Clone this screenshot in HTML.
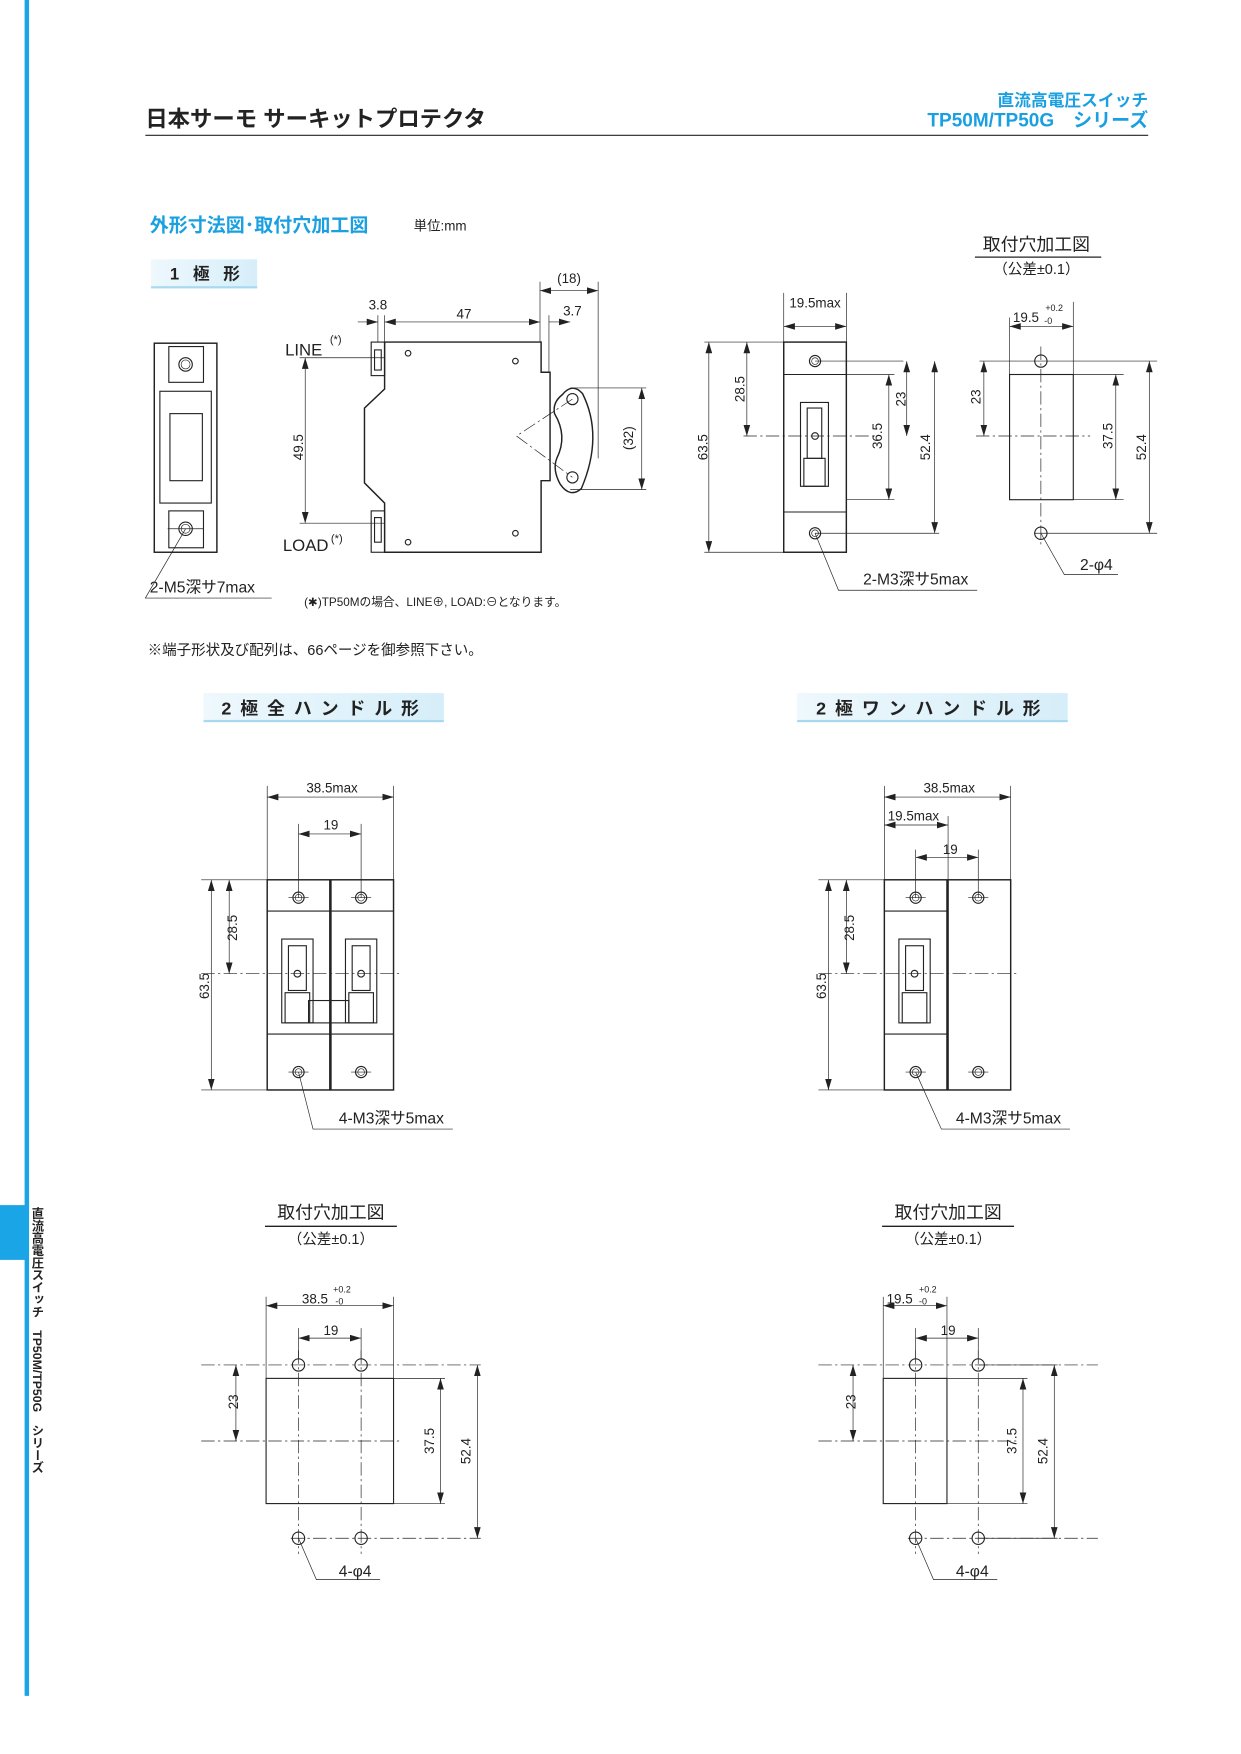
<!DOCTYPE html>
<html><head><meta charset="utf-8"><style>
html,body{margin:0;padding:0;background:#fff}
svg{display:block}
text{font-family:"Liberation Sans","Noto Sans CJK JP",sans-serif;fill:#222}
.l{stroke:#222;stroke-width:1;fill:none}
.t{stroke:#222;stroke-width:0.6;fill:none}
.b{stroke:#222;stroke-width:1.3;fill:#fff}
.c{stroke:#222;stroke-width:0.6;fill:none;stroke-dasharray:12 3 2 3}
.d{stroke:#222;stroke-width:0.6;fill:none;marker-start:url(#a);marker-end:url(#a)}
.dn{font-size:12px}
</style></head><body>
<svg width="1241" height="1754" viewBox="0 0 1110 1569" preserveAspectRatio="none" xmlns="http://www.w3.org/2000/svg">
<defs>
<marker id="a" viewBox="0 0 10 6" refX="10" refY="3" markerWidth="10" markerHeight="6" orient="auto-start-reverse" markerUnits="userSpaceOnUse"><path d="M0,0 L10,3 L0,6 z" fill="#222"/></marker>
<linearGradient id="g" x1="0" x2="1"><stop offset="0" stop-color="#eef8fd"/><stop offset="1" stop-color="#d6eef9"/></linearGradient>
</defs>

<rect x="22" y="0" width="4" height="1517" fill="#1aa5e6"/>
<rect x="0" y="1078" width="25" height="49" fill="#1aa5e6"/>
<text x="33" y="1080" style="writing-mode:vertical-rl;font-size:11px;font-weight:bold" fill="#222">直流高電圧スイッチ　TP50M/TP50G　シリーズ</text>

<text x="130" y="113" font-size="20" font-weight="bold">日本サーモ サーキットプロテクタ</text>
<text x="1027" y="95" font-size="15" font-weight="bold" text-anchor="end" style="fill:#1aa0e0">直流高電圧スイッチ</text>
<text x="1027" y="113" font-size="17" font-weight="bold" text-anchor="end" style="fill:#1aa0e0">TP50M/TP50G　シリーズ</text>
<line x1="130" y1="121" x2="1027" y2="121" stroke="#222" stroke-width="1"/>

<text x="134" y="207" font-size="17" font-weight="bold" style="fill:#1aa0e0">外形寸法図･取付穴加工図</text>
<text x="370" y="206" font-size="12">単位:mm</text>

<rect x="135" y="232" width="95" height="26" fill="url(#g)"/><rect x="135" y="256" width="95" height="2" fill="#a9d9f0"/>
<text x="152" y="250" font-size="15" font-weight="bold" letter-spacing="4">1 極 形</text>
<rect x="182" y="620" width="215" height="26" fill="url(#g)"/><rect x="182" y="644" width="215" height="2" fill="#a9d9f0"/>
<text x="198" y="639" font-size="16" font-weight="bold" letter-spacing="8">2極全ハンドル形</text>
<rect x="713" y="620" width="242" height="26" fill="url(#g)"/><rect x="713" y="644" width="242" height="2" fill="#a9d9f0"/>
<text x="730" y="639" font-size="16" font-weight="bold" letter-spacing="8">2極ワンハンドル形</text>

<rect class="b" x="138" y="307" width="56" height="187"/>
<rect class="l" x="151" y="310" width="31" height="32"/><circle class="l" cx="166" cy="326" r="6"/><circle class="t" cx="166" cy="326" r="4"/>
<rect class="l" x="143" y="350" width="46" height="100"/><rect class="l" x="152" y="370" width="29" height="60"/>
<rect class="l" x="151" y="457" width="31" height="33"/><circle class="l" cx="166" cy="473" r="6"/><circle class="t" cx="166" cy="473" r="4"/>
<line class="t" x1="150" y1="473" x2="182" y2="473"/>
<path class="t" d="M166,473 L130,535 L243,535"/>
<text x="134" y="530" font-size="14">2-M5深サ7max</text>

<path class="b" d="M344,306 L484,306 L484,333 L492,333 L492,430 L484,430 L484,494 L344,494 L344,450 L326,432 L326,365 L344,348 Z"/>
<rect class="l" x="332" y="306" width="12" height="30"/><rect class="l" x="335" y="313" width="6" height="18"/>
<rect class="l" x="332" y="457" width="12" height="37"/><rect class="l" x="335" y="463" width="6" height="22"/>
<circle class="l" cx="365" cy="316" r="2.5"/><circle class="l" cx="461" cy="323" r="2.5"/><circle class="l" cx="365" cy="485" r="2.5"/><circle class="l" cx="461" cy="477" r="2.5"/>
<path class="b" d="M503,353 Q512,342 521,352 Q540,390 520,437 Q510,446 501,433 Q494,420 498,410 Q508,390 496,370 Q494,360 503,353 Z"/>
<circle class="l" cx="512" cy="357" r="5"/><circle class="l" cx="512" cy="427" r="5"/>
<path class="c" d="M512,357 L462,390 L512,427"/>
<line class="t" x1="338" y1="282" x2="338" y2="306"/><line class="t" x1="344" y1="282" x2="344" y2="306"/>
<line class="t" x1="483" y1="252" x2="483" y2="306"/><line class="t" x1="491" y1="282" x2="491" y2="333"/><line class="t" x1="535" y1="252" x2="535" y2="410"/>
<line class="d" x1="320" y1="288" x2="338" y2="288" style="marker-start:none"/>
<line class="d" x1="344" y1="288" x2="483" y2="288"/>
<line class="d" x1="491" y1="288" x2="510" y2="288" style="marker-start:none"/>
<line class="d" x1="483" y1="260" x2="535" y2="260"/>
<text x="338" y="277" class="dn" text-anchor="middle">3.8</text>
<text x="415" y="285" class="dn" text-anchor="middle">47</text>
<text x="512" y="282" class="dn" text-anchor="middle">3.7</text>
<text x="509" y="253" class="dn" text-anchor="middle">(18)</text>
<text x="255" y="318" font-size="15">LINE</text><text x="295" y="307" font-size="10">(*)</text>
<text x="253" y="493" font-size="15">LOAD</text><text x="296" y="485" font-size="10">(*)</text>
<line class="t" x1="268" y1="320" x2="344" y2="320"/><line class="t" x1="268" y1="468" x2="344" y2="468"/>
<line class="d" x1="273" y1="320" x2="273" y2="468"/>
<text class="dn" transform="translate(271,400) rotate(-90)" text-anchor="middle">49.5</text>
<line class="t" x1="510" y1="347" x2="578" y2="347"/><line class="t" x1="510" y1="438" x2="578" y2="438"/>
<line class="d" x1="574" y1="347" x2="574" y2="438"/>
<text class="dn" transform="translate(566,392) rotate(-90)" text-anchor="middle">(32)</text>
<text x="272" y="542" font-size="10.5">(✱)TP50Mの場合、LINE⊕, LOAD:⊖となります。</text>
<text x="132" y="586" font-size="13">※端子形状及び配列は、66ページを御参照下さい。</text>

<rect class="b" x="701" y="306" width="56" height="188"/>
<line class="l" x1="701" y1="335" x2="757" y2="335"/><line class="l" x1="701" y1="458" x2="757" y2="458"/>
<circle class="l" cx="729" cy="323" r="5"/><circle class="t" cx="729" cy="323" r="3"/>
<circle class="l" cx="729" cy="477" r="5"/><circle class="t" cx="729" cy="477" r="3"/>
<rect class="l" x="716" y="360" width="25" height="75"/><rect class="l" x="722" y="365" width="13" height="45"/><rect class="l" x="719" y="410" width="19" height="25"/>
<circle class="l" cx="729" cy="390" r="3"/>
<line class="c" x1="665" y1="390" x2="782" y2="390"/>
<line class="t" x1="701" y1="262" x2="701" y2="306"/><line class="t" x1="757" y1="262" x2="757" y2="306"/>
<line class="d" x1="701" y1="292" x2="757" y2="292"/>
<text x="729" y="275" class="dn" text-anchor="middle">19.5max</text>
<line class="t" x1="630" y1="306" x2="701" y2="306"/><line class="t" x1="630" y1="494" x2="701" y2="494"/>
<line class="d" x1="634" y1="306" x2="634" y2="494"/>
<text class="dn" transform="translate(633,400) rotate(-90)" text-anchor="middle">63.5</text>
<line class="d" x1="668" y1="306" x2="668" y2="390"/>
<text class="dn" transform="translate(666,348) rotate(-90)" text-anchor="middle">28.5</text>
<line class="t" x1="729" y1="323" x2="808" y2="323"/><line class="t" x1="757" y1="335" x2="800" y2="335"/><line class="t" x1="757" y1="447" x2="800" y2="447"/><line class="t" x1="729" y1="477" x2="840" y2="477"/>
<line class="d" x1="811" y1="323" x2="811" y2="390"/>
<text class="dn" transform="translate(810,357) rotate(-90)" text-anchor="middle">23</text>
<line class="d" x1="795" y1="335" x2="795" y2="447"/>
<text class="dn" transform="translate(789,390) rotate(-90)" text-anchor="middle">36.5</text>
<line class="d" x1="836" y1="323" x2="836" y2="477"/>
<text class="dn" transform="translate(832,400) rotate(-90)" text-anchor="middle">52.4</text>
<path class="t" d="M729,477 L750,528 L874,528"/>
<text x="772" y="523" font-size="14">2-M3深サ5max</text>

<text x="927" y="224" font-size="16" text-anchor="middle">取付穴加工図</text>
<line x1="872" y1="230" x2="985" y2="230" stroke="#222" stroke-width="1.2"/>
<text x="927" y="245" font-size="13" text-anchor="middle">（公差±0.1）</text>
<rect class="l" x="903" y="335" width="57" height="112"/>
<circle class="l" cx="931" cy="323" r="5.5"/><circle class="l" cx="931" cy="477" r="5.5"/>
<line class="c" x1="931" y1="310" x2="931" y2="490"/>
<line class="c" x1="873" y1="390" x2="975" y2="390"/>
<line class="t" x1="876" y1="323" x2="1035" y2="323"/><line class="t" x1="960" y1="335" x2="1005" y2="335"/><line class="t" x1="960" y1="447" x2="1005" y2="447"/><line class="t" x1="925" y1="477" x2="1035" y2="477"/>
<line class="d" x1="880" y1="323" x2="880" y2="390"/>
<text class="dn" transform="translate(877,355) rotate(-90)" text-anchor="middle">23</text>
<line class="d" x1="998" y1="335" x2="998" y2="447"/>
<text class="dn" transform="translate(995,390) rotate(-90)" text-anchor="middle">37.5</text>
<line class="d" x1="1028" y1="323" x2="1028" y2="477"/>
<text class="dn" transform="translate(1025,400) rotate(-90)" text-anchor="middle">52.4</text>
<line class="t" x1="903" y1="284" x2="903" y2="335"/><line class="t" x1="960" y1="270" x2="960" y2="335"/>
<line class="d" x1="903" y1="292" x2="960" y2="292"/>
<text x="906" y="288" class="dn">19.5</text><text x="935" y="278" font-size="8">+0.2</text><text x="934" y="290" font-size="8">-0</text>
<path class="t" d="M931,477 L952,514 L1000,514"/>
<text x="966" y="510" font-size="14">2-φ4</text>

<rect class="b" x="239" y="787" width="56" height="188"/><rect class="b" x="296" y="787" width="56" height="188"/>
<line class="l" x1="239" y1="815" x2="352" y2="815"/><line class="l" x1="239" y1="925" x2="352" y2="925"/>
<g id="h"><rect class="l" x="252" y="840" width="28" height="75"/><rect class="l" x="258" y="846" width="16" height="40"/><rect class="l" x="255" y="888" width="22" height="27"/><circle class="l" cx="266" cy="871" r="3"/></g>
<use href="#h" x="57"/>
<rect class="l" x="276" y="895" width="36" height="20" fill="#fff"/>
<g id="hc"><circle class="l" cx="267" cy="803" r="5"/><circle class="t" cx="267" cy="803" r="3"/><circle class="l" cx="267" cy="959" r="5"/><circle class="t" cx="267" cy="959" r="3"/>
<line class="t" x1="258" y1="803" x2="276" y2="803"/><line class="t" x1="258" y1="959" x2="276" y2="959"/></g>
<use href="#hc" x="56"/>
<line class="c" x1="180" y1="871" x2="357" y2="871"/>
<line class="t" x1="239" y1="703" x2="239" y2="787"/><line class="t" x1="352" y1="703" x2="352" y2="787"/>
<line class="t" x1="267" y1="737" x2="267" y2="803"/><line class="t" x1="323" y1="737" x2="323" y2="803"/>
<line class="d" x1="239" y1="713" x2="352" y2="713"/>
<text x="297" y="709" class="dn" text-anchor="middle">38.5max</text>
<line class="d" x1="267" y1="746" x2="323" y2="746"/>
<text x="296" y="742" class="dn" text-anchor="middle">19</text>
<line class="t" x1="180" y1="787" x2="239" y2="787"/><line class="t" x1="180" y1="975" x2="239" y2="975"/>
<line class="d" x1="189" y1="787" x2="189" y2="975"/>
<text class="dn" transform="translate(187,882) rotate(-90)" text-anchor="middle">63.5</text>
<line class="d" x1="205" y1="787" x2="205" y2="871"/>
<text class="dn" transform="translate(212,830) rotate(-90)" text-anchor="middle">28.5</text>
<path class="t" d="M267,959 L280,1010 L405,1010"/>
<text x="303" y="1005" font-size="14">4-M3深サ5max</text>

<g transform="translate(552,0)">
<rect class="b" x="239" y="787" width="56" height="188"/><rect class="b" x="296" y="787" width="56" height="188"/>
<line class="l" x1="239" y1="815" x2="295" y2="815"/><line class="l" x1="239" y1="925" x2="295" y2="925"/>
<use href="#h"/>
<use href="#hc"/><use href="#hc" x="56"/>
<line class="c" x1="180" y1="871" x2="357" y2="871"/>
<line class="t" x1="239" y1="703" x2="239" y2="787"/><line class="t" x1="352" y1="703" x2="352" y2="787"/><line class="t" x1="296" y1="730" x2="296" y2="787"/>
<line class="t" x1="267" y1="760" x2="267" y2="803"/><line class="t" x1="323" y1="760" x2="323" y2="803"/>
<line class="d" x1="239" y1="713" x2="352" y2="713"/>
<text x="297" y="709" class="dn" text-anchor="middle">38.5max</text>
<line class="d" x1="239" y1="738" x2="296" y2="738"/>
<text x="242" y="734" class="dn">19.5max</text>
<line class="d" x1="267" y1="767" x2="323" y2="767"/>
<text x="298" y="764" class="dn" text-anchor="middle">19</text>
<line class="t" x1="180" y1="787" x2="239" y2="787"/><line class="t" x1="180" y1="975" x2="239" y2="975"/>
<line class="d" x1="189" y1="787" x2="189" y2="975"/>
<text class="dn" transform="translate(187,882) rotate(-90)" text-anchor="middle">63.5</text>
<line class="d" x1="205" y1="787" x2="205" y2="871"/>
<text class="dn" transform="translate(212,830) rotate(-90)" text-anchor="middle">28.5</text>
<path class="t" d="M267,959 L290,1010 L405,1010"/>
<text x="303" y="1005" font-size="14">4-M3深サ5max</text>
</g>

<g id="ct">
<text x="296" y="1090" font-size="16" text-anchor="middle">取付穴加工図</text>
<line x1="237" y1="1097" x2="355" y2="1097" stroke="#222" stroke-width="1.2"/>
<text x="296" y="1113" font-size="13" text-anchor="middle">（公差±0.1）</text>
<circle class="l" cx="267" cy="1221" r="5.5"/><circle class="l" cx="323" cy="1221" r="5.5"/>
<circle class="l" cx="267" cy="1376" r="5.5"/><circle class="l" cx="323" cy="1376" r="5.5"/>
<line class="c" x1="267" y1="1208" x2="267" y2="1390"/><line class="c" x1="323" y1="1208" x2="323" y2="1390"/>
<line class="c" x1="180" y1="1289" x2="357" y2="1289"/>
<line class="c" x1="180" y1="1221" x2="430" y2="1221"/><line class="c" x1="260" y1="1376" x2="430" y2="1376"/>
<line class="t" x1="267" y1="1188" x2="267" y2="1215"/><line class="t" x1="323" y1="1188" x2="323" y2="1215"/>
<line class="d" x1="267" y1="1197" x2="323" y2="1197"/>
<text x="296" y="1194" class="dn" text-anchor="middle">19</text>
<line class="d" x1="211" y1="1221" x2="211" y2="1289"/>
<text class="dn" transform="translate(213,1254) rotate(-90)" text-anchor="middle">23</text>
<path class="t" d="M267,1376 L283,1413 L340,1413"/>
<text x="303" y="1410" font-size="14">4-φ4</text>
</g>
<use href="#ct" x="552"/>
<rect class="l" x="238" y="1233" width="114" height="112"/>
<line class="t" x1="352" y1="1233" x2="398" y2="1233"/><line class="t" x1="352" y1="1345" x2="398" y2="1345"/>
<line class="d" x1="394" y1="1233" x2="394" y2="1345"/>
<text class="dn" transform="translate(388,1289) rotate(-90)" text-anchor="middle">37.5</text>
<line class="d" x1="427" y1="1221" x2="427" y2="1376"/>
<text class="dn" transform="translate(421,1298) rotate(-90)" text-anchor="middle">52.4</text>
<line class="t" x1="238" y1="1160" x2="238" y2="1233"/><line class="t" x1="352" y1="1160" x2="352" y2="1233"/>
<line class="d" x1="238" y1="1168" x2="352" y2="1168"/>
<text x="270" y="1166" class="dn">38.5</text><text x="298" y="1156" font-size="8">+0.2</text><text x="300" y="1167" font-size="8">-0</text>
<rect class="l" x="790" y="1233" width="57" height="112"/>
<line class="t" x1="847" y1="1233" x2="919" y2="1233"/><line class="t" x1="847" y1="1345" x2="919" y2="1345"/>
<line class="d" x1="915" y1="1233" x2="915" y2="1345"/>
<text class="dn" transform="translate(909,1289) rotate(-90)" text-anchor="middle">37.5</text>
<line class="d" x1="943" y1="1221" x2="943" y2="1376"/>
<line class="t" x1="875" y1="1221" x2="946" y2="1221"/><line class="t" x1="875" y1="1376" x2="946" y2="1376"/>
<text class="dn" transform="translate(937,1298) rotate(-90)" text-anchor="middle">52.4</text>
<line class="t" x1="790" y1="1160" x2="790" y2="1233"/><line class="t" x1="847" y1="1160" x2="847" y2="1233"/>
<line class="d" x1="790" y1="1168" x2="847" y2="1168"/>
<text x="793" y="1166" class="dn">19.5</text><text x="822" y="1156" font-size="8">+0.2</text><text x="822" y="1167" font-size="8">-0</text>
</svg>
</body></html>
